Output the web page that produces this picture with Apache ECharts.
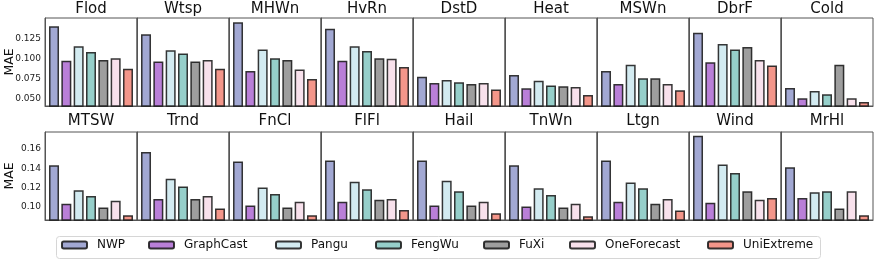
<!DOCTYPE html>
<html><head><meta charset="utf-8">
<script src="https://cdn.jsdelivr.net/npm/echarts@6/dist/echarts.min.js"></script>
<style>html,body{margin:0;padding:0;background:#fff}#c{width:877px;height:262px}</style>
</head><body><div id="c"></div>
<script>
const models = ['NWP','GraphCast','Pangu','FengWu','FuXi','OneForecast','UniExtreme'];
const colors = ['#a2a8d3','#b97fd8','#d3ebf1','#96cfca','#9e9e9e','#f8e1ec','#f3968a'];

const topEvents = ['Flod','Wtsp','MHWn','HvRn','DstD','Heat','MSWn','DbrF','Cold'];
const bottomEvents = ['MTSW','Trnd','FnCl','FlFl','Hail','TnWn','Ltgn','Wind','MrHl'];

// MAE per model (rows) per event (columns)
const topNWP         = [0.140,0.130,0.145,0.137,0.077,0.079,0.084,0.132,0.063];
const topGraphCast   = [0.097,0.096,0.084,0.097,0.069,0.0625,0.068,0.095,0.050];
const topPangu       = [0.115,0.110,0.111,0.115,0.073,0.072,0.092,0.118,0.059];
const topFengWu      = [0.108,0.106,0.100,0.109,0.070,0.066,0.075,0.111,0.055];
const topFuXi        = [0.098,0.096,0.098,0.100,0.068,0.065,0.075,0.114,0.092];
const topOneForecast = [0.100,0.098,0.086,0.0996,0.069,0.064,0.068,0.098,0.050];
const topUniExtreme  = [0.087,0.087,0.074,0.089,0.061,0.054,0.060,0.091,0.0455];

const botNWP         = [0.143,0.157,0.147,0.148,0.148,0.143,0.148,0.174,0.141];
const botGraphCast   = [0.103,0.108,0.101,0.105,0.101,0.100,0.105,0.104,0.109];
const botPangu       = [0.117,0.129,0.120,0.126,0.127,0.119,0.125,0.144,0.115];
const botFengWu      = [0.111,0.121,0.113,0.118,0.116,0.112,0.119,0.135,0.116];
const botFuXi        = [0.099,0.108,0.099,0.107,0.101,0.099,0.103,0.116,0.098];
const botOneForecast = [0.106,0.111,0.105,0.108,0.105,0.103,0.108,0.107,0.116];
const botUniExtreme  = [0.091,0.098,0.091,0.0965,0.093,0.090,0.096,0.109,0.091];

const topTicks = [0.050,0.075,0.100,0.125];
const botTicks = [0.10,0.12,0.14,0.16];

const topData = [topNWP,topGraphCast,topPangu,topFengWu,topFuXi,topOneForecast,topUniExtreme];
const botData = [botNWP,botGraphCast,botPangu,botFengWu,botFuXi,botOneForecast,botUniExtreme];

const FONT = 'DejaVu Sans';
const grids=[], xAxes=[], yAxes=[], series=[], graphics=[];
const panelLeft = 45, panelW = 92;
const rows = [
  {events: topEvents, data: topData, top: 18, h: 88, min: 0.0404, max: 0.1504, ticks: topTicks, dec: 3, titleY: 9},
  {events: bottomEvents, data: botData, top: 132, h: 88, min: 0.086, max: 0.1778, ticks: botTicks, dec: 2, titleY: 121}
];
let gi = 0;
rows.forEach((row, r) => {
  row.events.forEach((ev, i) => {
    const left = panelLeft + i*panelW;
    grids.push({left: left, top: row.top, width: panelW, height: row.h, show: true, borderColor: '#555', borderWidth: 1, backgroundColor: 'transparent'});
    xAxes.push({type: 'category', gridIndex: gi, data: [ev], axisLine:{show:true, lineStyle:{color:'#555'}}, axisTick:{show:false}, axisLabel:{show:false}});
    yAxes.push({type: 'value', gridIndex: gi, min: row.min, max: row.max,
      splitLine:{show:false}, axisLine:{show:true, lineStyle:{color:'#555'}},
      axisTick:{show:false},
      axisLabel:{show: i===0, customValues: row.ticks, fontFamily: FONT, fontSize: 9, color:'#222', margin: 4,
        formatter: v => v.toFixed(row.dec)},
      name: i===0 ? 'MAE' : '', nameLocation: 'middle', nameGap: 29, nameMoveOverlap: false,
      nameTextStyle: {fontFamily: FONT, fontSize: 12.5, color:'#111'}});
    graphics.push({type: 'text', silent: true, style: {text: ev, x: left + panelW/2, y: row.titleY,
      textAlign: 'center', textVerticalAlign: 'middle', verticalAlign: 'middle', align: 'center',
      font: '15px "DejaVu Sans"', fill: '#111'}});
    models.forEach((m, k) => {
      series.push({type: 'bar', name: m, xAxisIndex: gi, yAxisIndex: gi, data: [row.data[k][i]],
        barWidth: 10, barGap: '23.3%',
        itemStyle: {color: colors[k], borderColor: 'rgba(20,20,20,0.85)', borderWidth: 1.5},
        emphasis: {disabled: true}, silent: true, animation: false});
    });
    gi++;
  });
});

const legendX = [61, 148, 275, 375, 483, 569, 707];
const legends = models.map((m, k) => ({
  data: [m], left: legendX[k], top: 239, itemWidth: 25, itemHeight: 7, itemGap: 4,
  textStyle: {fontFamily: FONT, fontSize: 12, color: '#111', padding: [0,0,0,5]},
  padding: 0
}));
graphics.push({type: 'rect', silent: true, shape: {x: 56.5, y: 236.5, width: 764, height: 22, r: 3},
  style: {fill: 'none', stroke: '#d6d6d6', lineWidth: 1}});

const chart = echarts.init(document.getElementById('c'), null, {renderer: 'canvas'});
chart.setOption({
  animation: false,
  grid: grids, xAxis: xAxes, yAxis: yAxes, series: series,
  legend: legends,
  graphic: graphics
});
</script></body></html>
